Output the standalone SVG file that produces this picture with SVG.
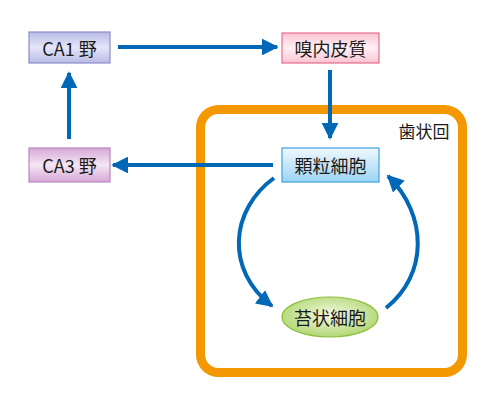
<svg xmlns="http://www.w3.org/2000/svg" width="500" height="413" viewBox="0 0 500 413">
<defs>
<linearGradient id="gCA1" x1="0" y1="0" x2="0" y2="1"><stop offset="0" stop-color="#b8bce6"/><stop offset="0.5" stop-color="#e4e6f8"/><stop offset="1" stop-color="#b8bce6"/></linearGradient>
<linearGradient id="gEnt" x1="0" y1="0" x2="0" y2="1"><stop offset="0" stop-color="#f9c4d2"/><stop offset="0.5" stop-color="#fff0f4"/><stop offset="1" stop-color="#f9c4d2"/></linearGradient>
<linearGradient id="gCA3" x1="0" y1="0" x2="0" y2="1"><stop offset="0" stop-color="#d6a8d6"/><stop offset="0.5" stop-color="#f4e6f4"/><stop offset="1" stop-color="#d6a8d6"/></linearGradient>
<linearGradient id="gGran" x1="0" y1="0" x2="0" y2="1"><stop offset="0" stop-color="#f0f9ff"/><stop offset="1" stop-color="#9cd4f4"/></linearGradient>
<radialGradient id="gMoss" cx="0.5" cy="0.45" r="0.6"><stop offset="0" stop-color="#f4fae2"/><stop offset="1" stop-color="#acd46c"/></radialGradient>
<marker id="ah" viewBox="0 0 10 10" refX="9" refY="5" markerWidth="4.2" markerHeight="4.2" markerUnits="strokeWidth" orient="auto"><path d="M0,0 L10,5 L0,10 z" fill="#0068b7"/></marker>
<style>
.lbl{font-family:"Noto Sans CJK JP","Liberation Sans",sans-serif;font-size:18px;fill:#1a1a1a;text-anchor:middle;dominant-baseline:central}
.con{fill:none;stroke:#0068b7;stroke-width:4;marker-end:url(#ah)}
</style>
</defs>
<rect x="200.5" y="109.5" width="262" height="263" rx="18" fill="#fff" stroke="#f39800" stroke-width="9"/>
<text class="lbl" x="424" y="130" style="font-size:17px">歯状回</text>
<g id="connectors">
<path class="con" d="M118,47 H277"/>
<path class="con" d="M330,70 V138"/>
<path class="con" d="M273,165 H113"/>
<path class="con" d="M69,139 V73"/>
<path class="con" d="M274,178 C230,210 225,270 272,306"/>
<path class="con" d="M386,308 C428,275 428,215 388,176"/>
</g>
<g id="ca1"><rect x="29" y="32" width="81" height="31" fill="url(#gCA1)" stroke="#8c8ccc" stroke-width="1.2"/><text class="lbl" x="69.5" y="48">CA1 野</text></g>
<g id="entorhinal"><rect x="282" y="33" width="97" height="30" fill="url(#gEnt)" stroke="#e46e8c" stroke-width="1.2"/><text class="lbl" x="330.5" y="48">嗅内皮質</text></g>
<g id="ca3"><rect x="29" y="148" width="81" height="34" fill="url(#gCA3)" stroke="#b888bc" stroke-width="1.2"/><text class="lbl" x="69.5" y="165">CA3 野</text></g>
<g id="granule"><rect x="282" y="148" width="97" height="34" fill="url(#gGran)" stroke="#3fa2e0" stroke-width="1.2"/><text class="lbl" x="330.5" y="165">顆粒細胞</text></g>
<g id="mossy"><ellipse cx="330" cy="317" rx="48" ry="20" fill="url(#gMoss)" stroke="#8cc03c" stroke-width="1.2"/><text class="lbl" x="330" y="317">苔状細胞</text></g>
</svg>
